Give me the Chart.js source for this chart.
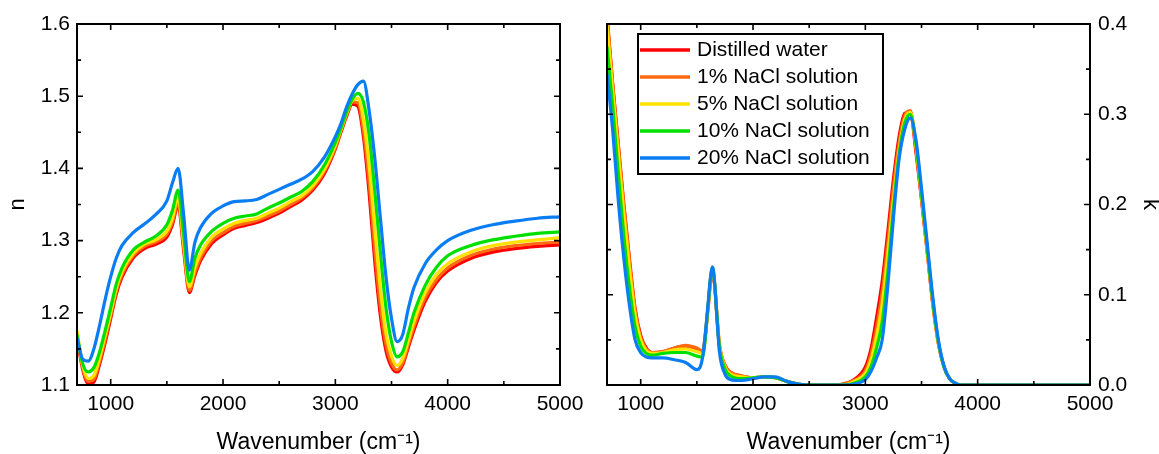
<!DOCTYPE html>
<html>
<head>
<meta charset="utf-8">
<script src="https://cdn.jsdelivr.net/npm/chart.js@4.4.1/dist/chart.umd.min.js"></script>
<style>
  html, body { margin: 0; padding: 0; background: #fff; }
  #wrap { position: relative; width: 1159px; height: 454px; overflow: hidden; }
  #nChart { position: absolute; left: 0; top: 0; }
  #kChart { position: absolute; left: 580px; top: 0; }
</style>
</head>
<body>
<div id="wrap">
  <canvas id="nChart" width="600" height="454"></canvas>
  <canvas id="kChart" width="579" height="454"></canvas>
</div>
<script>
// series names + line colours (same order in both panels)
const seriesLabels = ['Distilled water', '1% NaCl solution', '5% NaCl solution', '10% NaCl solution', '20% NaCl solution'];
const seriesColors = ['#ff0000', '#ff6a10', '#ffe200', '#00e000', '#0a7df2'];

// tick values
const xTickValues = [1000, 2000, 3000, 4000, 5000];
const xMinorValues = [1500, 2500, 3500, 4500];
const nTickValues = [1.1, 1.2, 1.3, 1.4, 1.5, 1.6];
const nMinorValues = [1.15, 1.25, 1.35, 1.45, 1.55];
const kTickValues = [0, 0.1, 0.2, 0.3, 0.4];
const kMinorValues = [0.05, 0.15, 0.25, 0.35];

// left panel: refractive index n
const nWavenumber = [700, 750, 800, 850, 900, 950, 1000, 1050, 1100,
  1200, 1300, 1400, 1500, 1550, 1600, 1650, 1700, 1750, 1800,
  1900, 2000, 2100, 2200, 2300, 2400, 2500, 2600, 2700, 2800, 2900,
  3000, 3050, 3100, 3150, 3200, 3250, 3300, 3350, 3400, 3450, 3500, 3550, 3600, 3650, 3700,
  3800, 3900, 4000, 4200, 4400, 4600, 4800, 5000];
const nDistilled = [1.165, 1.122, 1.102, 1.104, 1.128, 1.158, 1.192, 1.226, 1.249,
  1.276, 1.289, 1.295, 1.305, 1.322, 1.349, 1.286, 1.228, 1.252, 1.272,
  1.296, 1.308, 1.317, 1.321, 1.325, 1.331, 1.338, 1.347, 1.356, 1.370, 1.392,
  1.427, 1.450, 1.472, 1.489, 1.486, 1.444, 1.367, 1.273, 1.197, 1.148, 1.125, 1.118, 1.128, 1.152, 1.176,
  1.216, 1.242, 1.258, 1.275, 1.284, 1.289, 1.292, 1.294];
const nNaCl1 = [1.168, 1.125, 1.105, 1.108, 1.132, 1.163, 1.196, 1.230, 1.253,
  1.279, 1.292, 1.298, 1.309, 1.326, 1.353, 1.290, 1.231, 1.256, 1.276,
  1.300, 1.311, 1.320, 1.324, 1.328, 1.334, 1.341, 1.350, 1.359, 1.373, 1.395,
  1.429, 1.452, 1.474, 1.492, 1.491, 1.453, 1.382, 1.290, 1.210, 1.157, 1.130, 1.121, 1.131, 1.156, 1.181,
  1.221, 1.246, 1.262, 1.279, 1.288, 1.293, 1.296, 1.298];
const nNaCl5 = [1.175, 1.128, 1.109, 1.113, 1.137, 1.168, 1.200, 1.234, 1.257,
  1.282, 1.295, 1.301, 1.313, 1.331, 1.360, 1.297, 1.236, 1.263, 1.282,
  1.305, 1.316, 1.324, 1.328, 1.331, 1.338, 1.345, 1.354, 1.362, 1.376, 1.398,
  1.432, 1.454, 1.476, 1.494, 1.497, 1.467, 1.405, 1.318, 1.235, 1.172, 1.140, 1.127, 1.137, 1.162, 1.188,
  1.228, 1.253, 1.268, 1.284, 1.293, 1.298, 1.301, 1.304];
const nNaCl10 = [1.170, 1.130, 1.118, 1.124, 1.145, 1.175, 1.207, 1.240, 1.262,
  1.287, 1.298, 1.306, 1.322, 1.342, 1.370, 1.308, 1.243, 1.276, 1.294,
  1.313, 1.324, 1.331, 1.334, 1.337, 1.345, 1.352, 1.360, 1.368, 1.382, 1.404,
  1.436, 1.456, 1.478, 1.496, 1.504, 1.492, 1.447, 1.370, 1.285, 1.208, 1.160, 1.139, 1.146, 1.172, 1.200,
  1.238, 1.263, 1.279, 1.293, 1.301, 1.306, 1.310, 1.312];
const nNaCl20 = [1.165, 1.136, 1.133, 1.150, 1.182, 1.218, 1.250, 1.276, 1.293,
  1.311, 1.323, 1.336, 1.355, 1.380, 1.400, 1.335, 1.259, 1.298, 1.318,
  1.338, 1.348, 1.354, 1.355, 1.357, 1.364, 1.371, 1.378, 1.385, 1.396, 1.415,
  1.444, 1.462, 1.485, 1.503, 1.516, 1.521, 1.481, 1.416, 1.333, 1.251, 1.192, 1.160, 1.170, 1.206, 1.235,
  1.268, 1.287, 1.300, 1.314, 1.322, 1.327, 1.331, 1.333];

// right panel: extinction coefficient k
const kWavenumber = [700, 750, 800, 850, 900, 950, 1000, 1050, 1100,
  1200, 1300, 1400, 1500, 1550,
  1600, 1620, 1640, 1660, 1680, 1700,
  1750, 1800, 1900, 2000, 2100, 2200, 2300, 2400, 2500,
  2700, 2800, 2900, 3000,
  3050, 3100, 3150, 3200, 3250, 3300, 3350, 3400, 3450, 3500,
  3550, 3600, 3650, 3700, 3750, 3800, 3850,
  4000, 4500, 5000];
const kDistilled = [0.41, 0.335, 0.268, 0.200, 0.140, 0.085, 0.055, 0.041, 0.036,
  0.037, 0.041, 0.043, 0.040, 0.037,
  0.085, 0.112, 0.126, 0.108, 0.074, 0.045,
  0.022, 0.014, 0.010, 0.008, 0.009, 0.008, 0.004, 0.001, 0,
  0, 0.001, 0.006, 0.020,
  0.040, 0.075, 0.115, 0.170, 0.228, 0.275, 0.301, 0.302, 0.258, 0.205,
  0.148, 0.090, 0.046, 0.020, 0.007, 0.002, 0,
  0, 0, 0];
const kNaCl1 = [0.41, 0.333, 0.266, 0.198, 0.137, 0.083, 0.053, 0.040, 0.036,
  0.037, 0.041, 0.044, 0.041, 0.038,
  0.087, 0.114, 0.128, 0.110, 0.075, 0.046,
  0.022, 0.014, 0.010, 0.008, 0.009, 0.008, 0.004, 0.001, 0,
  0, 0.001, 0.005, 0.016,
  0.034, 0.064, 0.103, 0.158, 0.218, 0.268, 0.298, 0.304, 0.262, 0.207,
  0.149, 0.091, 0.046, 0.020, 0.007, 0.002, 0,
  0, 0, 0];
const kNaCl5 = [0.40, 0.327, 0.258, 0.190, 0.130, 0.078, 0.050, 0.038, 0.035,
  0.036, 0.039, 0.040, 0.037, 0.035,
  0.087, 0.115, 0.129, 0.110, 0.075, 0.045,
  0.020, 0.012, 0.009, 0.008, 0.009, 0.008, 0.004, 0.001, 0,
  0, 0, 0.004, 0.013,
  0.028, 0.054, 0.090, 0.144, 0.205, 0.260, 0.294, 0.302, 0.266, 0.210,
  0.151, 0.093, 0.047, 0.020, 0.007, 0.002, 0,
  0, 0, 0];
const kNaCl10 = [0.375, 0.310, 0.235, 0.165, 0.108, 0.065, 0.043, 0.035, 0.033,
  0.035, 0.036, 0.036, 0.032, 0.031,
  0.088, 0.116, 0.130, 0.110, 0.074, 0.043,
  0.018, 0.010, 0.007, 0.008, 0.009, 0.008, 0.004, 0.001, 0,
  0, 0, 0.002, 0.009,
  0.020, 0.041, 0.070, 0.125, 0.195, 0.255, 0.290, 0.300, 0.268, 0.212,
  0.153, 0.094, 0.048, 0.020, 0.007, 0.002, 0,
  0, 0, 0];
const kNaCl20 = [0.345, 0.283, 0.205, 0.140, 0.088, 0.050, 0.036, 0.031, 0.030,
  0.030, 0.028, 0.025, 0.017, 0.030,
  0.090, 0.118, 0.131, 0.110, 0.072, 0.038,
  0.012, 0.006, 0.005, 0.007, 0.009, 0.009, 0.004, 0.001, 0,
  0, 0, 0.001, 0.006,
  0.015, 0.030, 0.050, 0.110, 0.185, 0.250, 0.283, 0.296, 0.272, 0.218,
  0.158, 0.098, 0.050, 0.021, 0.007, 0.002, 0,
  0, 0, 0];

const FONT = "'Liberation Sans', Arial, sans-serif";

function makeDatasets(xs, seriesList) {
  return seriesList.map((ys, i) => ({
    label: seriesLabels[i],
    data: xs.map((x, j) => ({ x: x, y: ys[j] })),
    borderColor: seriesColors[i],
    backgroundColor: seriesColors[i],
    borderWidth: 3.2,
    pointRadius: 0,
    fill: false,
    cubicInterpolationMode: 'monotone',
    order: seriesList.length - 1 - i   // blue on top
  }));
}

// box frame with inward ticks on all four sides
const frameTicks = {
  id: 'frameTicks',
  afterDatasetsDraw(chart, args, opts) {
    const { ctx, chartArea: a } = chart;
    const xs = chart.scales.x, ys = chart.scales.y;
    ctx.save();
    ctx.strokeStyle = '#000';
    ctx.lineWidth = 1.6;
    ctx.beginPath();
    const tickX = (vals, len) => vals.forEach(v => {
      const p = xs.getPixelForValue(v);
      ctx.moveTo(p, a.bottom); ctx.lineTo(p, a.bottom - len);
      ctx.moveTo(p, a.top); ctx.lineTo(p, a.top + len);
    });
    const tickY = (vals, len) => vals.forEach(v => {
      const p = ys.getPixelForValue(v);
      ctx.moveTo(a.left, p); ctx.lineTo(a.left + len, p);
      ctx.moveTo(a.right, p); ctx.lineTo(a.right - len, p);
    });
    tickX(xTickValues, 6);
    tickX(xMinorValues, 4);
    tickY(opts.major, 6);
    tickY(opts.minor, 4);
    ctx.stroke();
    ctx.lineWidth = 2;
    ctx.strokeRect(a.left, a.top, a.right - a.left, a.bottom - a.top);
    ctx.restore();
  }
};

// framed legend inside the k panel
const boxLegend = {
  id: 'boxLegend',
  afterDraw(chart) {
    const { ctx, chartArea: a } = chart;
    const left = a.left + 31, top = a.top + 10, w = 245, rowH = 27;
    const h = 140;
    ctx.save();
    ctx.fillStyle = '#fff';
    ctx.fillRect(left, top, w, h);
    ctx.lineWidth = 2;
    ctx.strokeStyle = '#000';
    ctx.strokeRect(left, top, w, h);
    chart.data.datasets.forEach((ds, i) => {
      const y = top + 16 + i * rowH;
      ctx.strokeStyle = ds.borderColor;
      ctx.lineWidth = 3.5;
      ctx.beginPath();
      ctx.moveTo(left + 2, y);
      ctx.lineTo(left + 52, y);
      ctx.stroke();
      ctx.fillStyle = '#000';
      ctx.font = '21px ' + FONT;
      ctx.textBaseline = 'middle';
      ctx.fillText(ds.label, left + 59, y);
    });
    ctx.restore();
  }
};

function xAxis() {
  return {
    type: 'linear', position: 'bottom', min: 700, max: 5000,
    grid: { display: false, drawTicks: false },
    border: { display: false },
    afterBuildTicks: s => { s.ticks = xTickValues.map(v => ({ value: v })); },
    afterFit: s => { s.height = 69; },
    ticks: { color: '#000', font: { family: FONT, size: 21 }, padding: 7, maxRotation: 0, callback: v => String(v) },
    title: { display: true, text: 'Wavenumber (cm\u207B\u00B9)', color: '#000',
      font: { family: FONT, size: 23, lineHeight: 1.0 }, padding: { top: 0, bottom: 0 } }
  };
}

new Chart(document.getElementById('nChart'), {
  type: 'line',
  data: { datasets: makeDatasets(nWavenumber, [nDistilled, nNaCl1, nNaCl5, nNaCl10, nNaCl20]) },
  options: {
    responsive: false,
    animation: false,
    layout: { padding: { left: 0, top: 24, right: 40, bottom: 0 } },
    plugins: {
      legend: { display: false },
      tooltip: { enabled: false },
      frameTicks: { major: nTickValues, minor: nMinorValues }
    },
    scales: {
      x: xAxis(),
      y: {
        type: 'linear', position: 'left', min: 1.1, max: 1.6,
        grid: { display: false, drawTicks: false },
        border: { display: false },
        afterBuildTicks: s => { s.ticks = nTickValues.map(v => ({ value: v })); },
        afterFit: s => { s.width = 77; },
        ticks: { color: '#000', font: { family: FONT, size: 21 }, padding: 7, callback: v => v.toFixed(1) },
        title: { display: true, text: 'n', color: '#000', font: { family: FONT, size: 22 }, padding: { top: 5, bottom: 0 } }
      }
    }
  },
  plugins: [frameTicks]
});

new Chart(document.getElementById('kChart'), {
  type: 'line',
  data: { datasets: makeDatasets(kWavenumber, [kDistilled, kNaCl1, kNaCl5, kNaCl10, kNaCl20]) },
  options: {
    responsive: false,
    animation: false,
    layout: { padding: { left: 27, top: 24, right: 0, bottom: 0 } },
    plugins: {
      legend: { display: false },
      tooltip: { enabled: false },
      frameTicks: { major: kTickValues, minor: kMinorValues }
    },
    scales: {
      x: xAxis(),
      y: {
        type: 'linear', position: 'right', min: 0, max: 0.4,
        grid: { display: false, drawTicks: false },
        border: { display: false },
        afterBuildTicks: s => { s.ticks = kTickValues.map(v => ({ value: v })); },
        afterFit: s => { s.width = 69; },
        ticks: { color: '#000', font: { family: FONT, size: 21 }, padding: 8, callback: v => v.toFixed(1) },
        title: { display: true, text: 'k', color: '#000', font: { family: FONT, size: 22, lineHeight: 0.8 }, padding: { top: 0, bottom: 0 } }
      }
    }
  },
  plugins: [frameTicks, boxLegend]
});
</script>
</body>
</html>
